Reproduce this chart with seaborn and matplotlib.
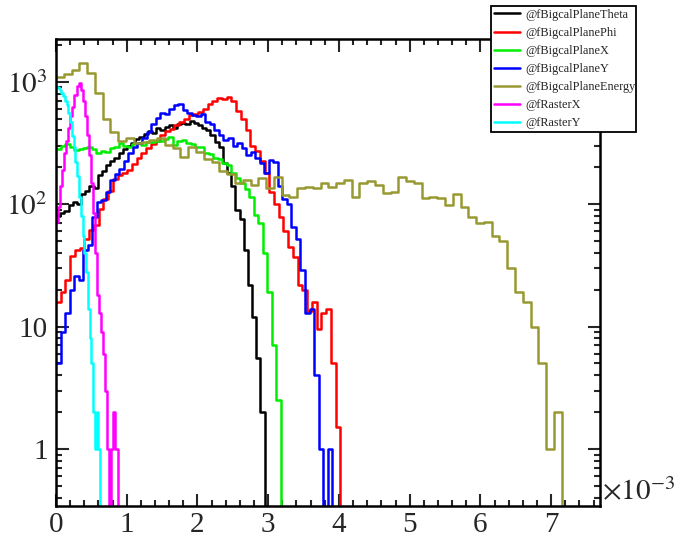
import numpy as np
import pandas as pd
import seaborn as sns
import matplotlib
matplotlib.use("Agg")
import matplotlib.pyplot as plt
from matplotlib.ticker import FixedLocator, MultipleLocator, LogLocator, NullFormatter

sns.set_style("ticks")
plt.rcParams['font.family'] = ['Liberation Serif', 'DejaVu Serif']
plt.rcParams['mathtext.fontset'] = 'stix'

## x values are in units of 1e-3, one histogram per branch (own range, own binning)
names = ['@fBigcalPlaneTheta', '@fBigcalPlanePhi', '@fBigcalPlaneX', '@fBigcalPlaneY',
         '@fBigcalPlaneEnergy', '@fRasterX', '@fRasterY']
colors = ['#000000', '#ff0000', '#00ee00', '#0000ff', '#999933', '#ff00ff', '#00ffff']

theta_range = (0, 2.95)
theta_counts = [80, 85, 88, 98, 104, 100, 122, 128, 140, 135, 172, 185, 210, 225, 238, 262, 280, 300,
                318, 340, 352, 372, 395, 380, 415, 405, 430, 445, 420, 455, 460, 448, 475, 460, 440,
                420, 405, 370, 320, 290, 215, 180, 140, 90, 75, 42, 22, 12, 5.5, 2]

phi_range = (0, 4.02)
phi_counts = [16, 19, 24, 38, 42, 44, 52, 62, 68, 92, 110, 128, 160, 172, 178, 190, 212, 240, 262,
              285, 310, 330, 365, 395, 410, 440, 470, 500, 530, 545, 565, 600, 660, 700, 740, 725,
              750, 690, 580, 500, 400, 300, 270, 225, 180, 125, 100, 78, 60, 45, 37, 22, 20, 13.5,
              16, 9.5, 13, 14, 5, 1.5]

x_range = (0, 3.18)
x_counts = [280, 300, 310, 290, 275, 280, 285, 295, 280, 262, 270, 265, 285, 295, 315, 300, 292,
            310, 318, 305, 322, 320, 330, 325, 340, 352, 305, 330, 335, 318, 310, 295, 290, 262,
            255, 240, 235, 218, 210, 180, 162, 148, 132, 115, 82, 70, 40, 19, 7, 2.5]

y_range = (0, 3.904)
y_counts = [5, 9, 13, 20, 26, 24, 42, 46, 78, 104, 108, 125, 158, 175, 195, 225, 262, 290, 318,
            345, 390, 450, 505, 560, 540, 600, 640, 660, 590, 560, 530, 520, 540, 470, 450, 400,
            370, 335, 345, 300, 318, 285, 250, 265, 240, 218, 180, 230, 222, 140, 110, 100, 65,
            52, 29, 13, 14, 4, 1, 0, 1]

energy_range = (0, 7.15)
energy_counts = [1100, 1150, 1250, 1420, 1180, 810, 500, 390, 325, 345, 318, 322, 333, 345, 305,
                 287, 243, 293, 265, 235, 222, 185, 175, 150, 157, 143, 162, 135, 166, 118, 115,
                 135, 138, 135, 148, 138, 150, 157, 115, 148, 155, 143, 123, 126, 166, 155, 150,
                 112, 114, 112, 98, 120, 95, 78, 70, 72, 55, 50, 30, 19, 16, 10, 5, 1, 2]

rasterx_range = (0, 0.87)
rasterx_counts = [72, 95, 140, 190, 260, 330, 420, 520, 620, 780, 920, 970, 850, 700, 520, 370,
                  250, 150, 85, 40, 18, 13, 9, 6, 3, 1, 0, 1, 2, 1]

rastery_range = (0, 0.625)
rastery_counts = [900, 880, 850, 810, 760, 700, 650, 560, 470, 360, 290, 220, 170, 115, 80, 55,
                  40, 28, 14, 8, 5, 2, 1, 2, 1]

ranges = [theta_range, phi_range, x_range, y_range, energy_range, rasterx_range, rastery_range]
counts_all = [theta_counts, phi_counts, x_counts, y_counts, energy_counts, rasterx_counts, rastery_counts]

tick_labels = ['0', '1', '2', '3', '4', '5', '6', '7']
ytick_vals = [1, 10, 100, 1000]
ytick_labels = ['1', '10', r'$10^{2}$', r'$10^{3}$']

fig = plt.figure(figsize=(6.74, 5.38), dpi=100)
ax = fig.add_axes([0.0831, 0.0595, 0.807, 0.8675])

for name, color, rng, counts in zip(names, colors, ranges, counts_all):
	edges = np.linspace(rng[0], rng[1], len(counts) + 1)
	# one empty bin after the last so the outline drops to the axis like ROOT does
	edges = np.append(edges, edges[-1] + (edges[1] - edges[0]))
	df = pd.DataFrame({'x': (edges[:-1] + edges[1:]) / 2, 'w': list(counts) + [0]})
	sns.histplot(data=df, x='x', weights='w', bins=list(edges), element='step', fill=False,
				 color=color, linewidth=1.8, label=name, ax=ax)

ax.set_yscale('log')
ax.set_xlim(0, 7.69)
ax.set_ylim(0.342, 2220)
ax.set_xlabel('')
ax.set_ylabel('')

## ROOT style axes
ax.xaxis.set_major_locator(FixedLocator(range(len(tick_labels))))
ax.set_xticklabels(tick_labels)
ax.xaxis.set_minor_locator(MultipleLocator(0.2))
ax.yaxis.set_major_locator(FixedLocator(ytick_vals))
ax.set_yticklabels(ytick_labels)
ax.yaxis.set_minor_locator(LogLocator(base=10, subs=np.arange(2, 10)))
ax.yaxis.set_minor_formatter(NullFormatter())
ax.tick_params(which='both', direction='in', top=True, right=True, width=1.5, labelsize=21)
ax.tick_params(which='major', length=9)
ax.tick_params(which='minor', length=4.5)
ax.tick_params(axis='x', pad=4)
ax.tick_params(axis='y', pad=6)
for sp in ax.spines.values():
	sp.set_linewidth(1.8)
	sp.set_color('black')

ax.text(1.004, 0.0, r'$\times10^{-3}$', transform=ax.transAxes, fontsize=21,
		ha='left', va='bottom')

handles, labels = ax.get_legend_handles_labels()
leg = fig.legend(handles, labels, loc='upper left', bbox_to_anchor=(0.7285, 0.7584, 0.2151, 0.231),
				 mode='expand', fontsize=8.8, labelspacing=0.5, handlelength=2.1, handletextpad=0.5,
				 borderpad=0.25, borderaxespad=0, fancybox=False, framealpha=1, edgecolor='black')
leg.get_frame().set_linewidth(1.3)

fig.savefig('out.png', dpi=100)
